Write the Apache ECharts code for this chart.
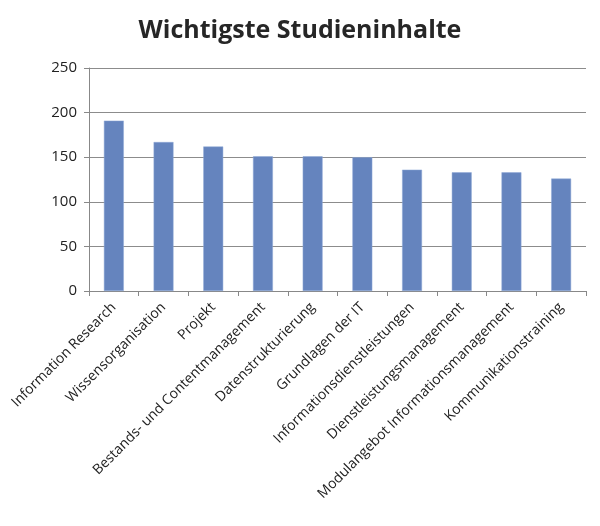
<!DOCTYPE html>
<html>
<head>
<meta charset="utf-8">
<script src="https://cdn.jsdelivr.net/npm/echarts@6/dist/echarts.min.js"></script>
<style>
  html, body { margin: 0; padding: 0; background: #fff; }
  #chart { width: 600px; height: 526px; }
</style>
</head>
<body>
<div id="chart"></div>
<script>
// --- Data ---
const chartTitle = 'Wichtigste Studieninhalte';
const categories = [
    'Information Research',
    'Wissensorganisation',
    'Projekt',
    'Bestands- und Contentmanagement',
    'Datenstrukturierung',
    'Grundlagen der IT',
    'Informationsdienstleistungen',
    'Dienstleistungsmanagement',
    'Modulangebot Informationsmanagement',
    'Kommunikationstraining'
];
const values = [191, 167, 162, 151, 151, 150, 136, 133, 133, 126];
const yTicks = [0, 50, 100, 150, 200, 250];

const chart = echarts.init(document.getElementById('chart'));
const labelFont = '"Open Sans", "Noto Sans", sans-serif';

chart.setOption({
    backgroundColor: '#fff',
    animation: false,
    title: {
        text: chartTitle,
        left: 'center',
        top: 13,
        textStyle: { fontFamily: labelFont, fontSize: 25, fontWeight: 'bold', color: '#262626' }
    },
    grid: { left: 89, right: 14, top: 68, bottom: 235 },
    xAxis: {
        type: 'category',
        data: categories,
        axisLine: { lineStyle: { color: '#888', width: 1 } },
        axisTick: { show: true, length: 5, lineStyle: { color: '#888' } },
        axisLabel: {
            rotate: 45,
            interval: 0,
            margin: 14,
            color: '#222',
            fontFamily: labelFont,
            fontSize: 14
        }
    },
    yAxis: {
        type: 'value',
        min: yTicks[0],
        max: yTicks[yTicks.length - 1],
        interval: 50,
        axisLine: { show: true, lineStyle: { color: '#888' } },
        axisTick: { show: true, length: 5, lineStyle: { color: '#888' } },
        splitLine: { lineStyle: { color: '#8c8c8c', width: 1 } },
        axisLabel: { color: '#222', fontFamily: labelFont, fontSize: 15, margin: 12 }
    },
    series: [{
        type: 'bar',
        data: values,
        barWidth: '40%',
        itemStyle: { color: '#6584BE', borderColor: '#8fa8d6', borderWidth: 0.5 }
    }]
});
</script>
</body>
</html>
